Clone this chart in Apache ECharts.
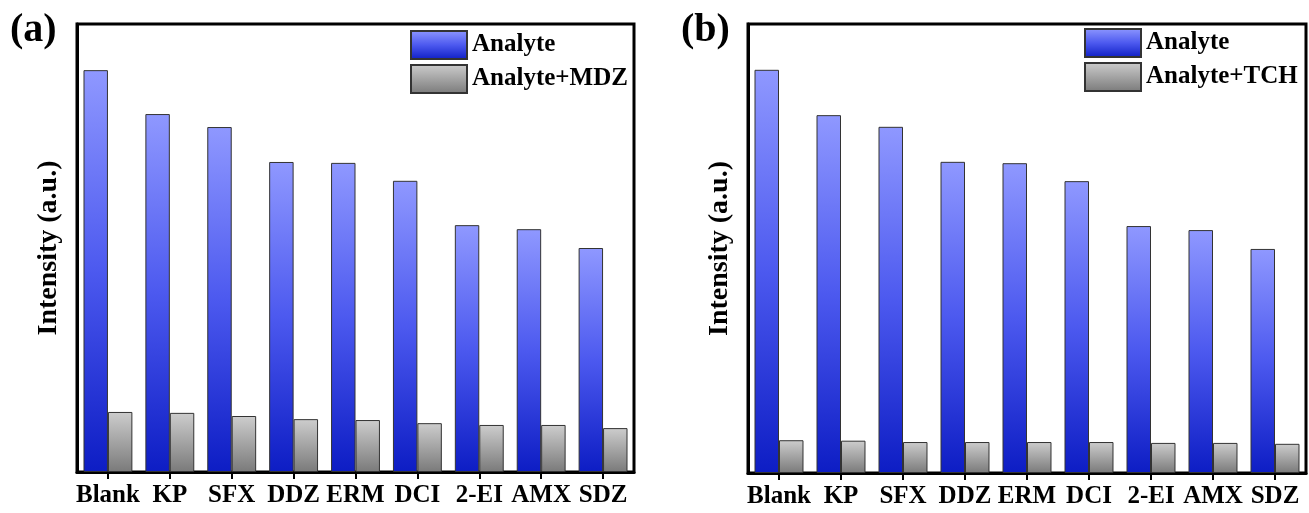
<!DOCTYPE html>
<html>
<head>
<meta charset="utf-8">
<script src="https://cdn.jsdelivr.net/npm/echarts@6/dist/echarts.min.js"></script>
<style>
html,body{margin:0;padding:0;background:#fff;}
#c{width:1309px;height:513px;}
</style>
</head>
<body>
<div id="c"></div>
<script>
var categories = ['Blank','KP','SFX','DDZ','ERM','DCI','2-EI','AMX','SDZ'];
var analyteA = [89.7, 79.9, 77.0, 69.2, 69.0, 65.0, 55.1, 54.2, 50.0];
var analyteMDZ = [13.4, 13.2, 12.5, 11.8, 11.6, 10.9, 10.5, 10.5, 9.8];
var analyteB = [89.8, 79.7, 77.1, 69.3, 69.0, 65.0, 55.0, 54.1, 49.9];
var analyteTCH = [7.3, 7.2, 6.9, 6.9, 6.9, 6.9, 6.7, 6.7, 6.5];
var yTitle = 'Intensity (a.u.)';

var FONT = '"Liberation Serif", "Times New Roman", serif';
function blueGrad(){ return new echarts.graphic.LinearGradient(0,0,0,1,[{offset:0,color:'#8f98ff'},{offset:0.5,color:'#4c59ef'},{offset:1,color:'#0d1dc4'}]); }
function grayGrad(){ return new echarts.graphic.LinearGradient(0,0,0,1,[{offset:0,color:'#cdcdcd'},{offset:1,color:'#7a7a7a'}]); }

var chart = echarts.init(document.getElementById('c'), null, {renderer:'canvas'});

function xAx(gi){
  return {
    type:'category', gridIndex:gi, data:categories,
    axisLine:{show:true, lineStyle:{color:'#000', width:3}},
    axisTick:{show:true, alignWithLabel:true, length:7, lineStyle:{color:'#000', width:2}},
    axisLabel:{color:'#000', fontFamily:FONT, fontWeight:'bold', fontSize:25, margin:11, interval:0},
    splitLine:{show:false}
  };
}
function yAx(gi){
  return {
    type:'value', gridIndex:gi, min:0, max:100,
    name:yTitle, nameLocation:'middle', nameGap:14,
    nameTextStyle:{color:'#000', fontFamily:FONT, fontWeight:'bold', fontSize:28},
    axisLine:{show:true, lineStyle:{color:'#000', width:3}},
    axisTick:{show:false}, axisLabel:{show:false}, splitLine:{show:false}
  };
}
function bar(name, data, gi, grad){
  return {
    type:'bar', name:name, xAxisIndex:gi, yAxisIndex:gi, data:data,
    barGap:'0%', barCategoryGap:'21%',
    itemStyle:{color:grad, borderColor:'#333', borderWidth:1},
    emphasis:{disabled:true}
  };
}
function legend(left, top, names){
  return {
    data:names, orient:'vertical', left:left, top:top,
    itemWidth:56, itemHeight:28, itemGap:4, padding:0,
    icon:'rect', selectedMode:false,
    textStyle:{color:'#000', fontFamily:FONT, fontWeight:'bold', fontSize:25}
  };
}

chart.setOption({
  backgroundColor:'#fff',
  animation:false,
  grid:[
    {left:77, top:24, width:557, height:448, show:true, borderColor:'#000', borderWidth:3, backgroundColor:'transparent'},
    {left:748, top:24, width:558, height:449, show:true, borderColor:'#000', borderWidth:3, backgroundColor:'transparent'}
  ],
  xAxis:[xAx(0), xAx(1)],
  yAxis:[yAx(0), yAx(1)],
  legend:[legend(410, 30, ['Analyte','Analyte+MDZ']), legend(1084, 28, ['Analyte','Analyte+TCH'])],
  series:[
    bar('Analyte', analyteA, 0, blueGrad()),
    bar('Analyte+MDZ', analyteMDZ, 0, grayGrad()),
    bar('Analyte', analyteB, 1, blueGrad()),
    bar('Analyte+TCH', analyteTCH, 1, grayGrad())
  ],
  graphic:[
    {type:'text', left:10, top:11, style:{text:'(a)', fontFamily:FONT, fontWeight:'bold', fontSize:40, fill:'#000'}},
    {type:'text', left:681, top:11, style:{text:'(b)', fontFamily:FONT, fontWeight:'bold', fontSize:40, fill:'#000'}}
  ]
});
</script>
</body>
</html>
